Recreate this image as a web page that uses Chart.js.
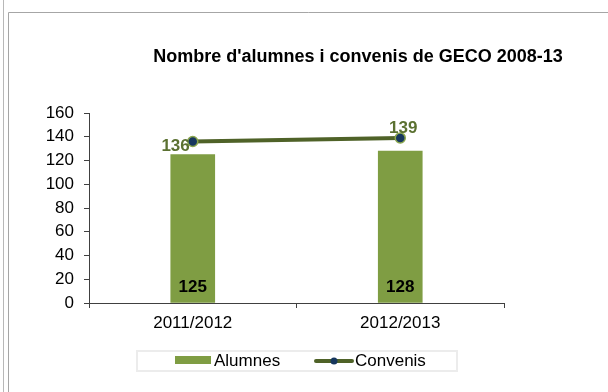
<!DOCTYPE html>
<html>
<head>
<meta charset="utf-8">
<script src="https://cdn.jsdelivr.net/npm/chart.js@4"></script>
<style>
  html, body { margin: 0; padding: 0; background: #fff; }
  #wrap { position: relative; width: 608px; height: 392px; }
</style>
</head>
<body>
<div id="wrap"><canvas id="geco-chart" width="608" height="392"></canvas></div>
<script>
const cursos = ['2011/2012', '2012/2013'];
const alumnes = [125, 128];
const convenis = [136, 139];
const titol = "Nombre d'alumnes i convenis de GECO 2008-13";

const FONT = '"Liberation Sans", Arial, sans-serif';
const barColor = '#7F9D43';
const lineColor = '#4F6228';
const pointColor = '#17375E';

// Marc, títol, etiquetes de valor i llegenda
const decoracio = {
    id: 'decoracio',
    beforeDraw: (chart) => {
        const ctx = chart.ctx;
        ctx.save();
        ctx.fillStyle = '#fff';
        ctx.fillRect(0, 0, chart.width, chart.height);
        ctx.strokeStyle = '#b8b8b8';
        ctx.lineWidth = 1;
        ctx.beginPath();
        ctx.moveTo(3.5, 0); ctx.lineTo(3.5, chart.height);
        ctx.stroke();
        ctx.strokeStyle = '#a6a6a6';
        ctx.beginPath();
        ctx.moveTo(8.5, chart.height); ctx.lineTo(8.5, 12.5); ctx.lineTo(chart.width, 12.5);
        ctx.stroke();
        ctx.restore();
    },
    afterDraw: (chart) => {
        const ctx = chart.ctx;
        ctx.save();

        // títol
        ctx.fillStyle = '#000';
        ctx.font = 'bold 18px ' + FONT;
        ctx.textAlign = 'center';
        ctx.textBaseline = 'middle';
        ctx.fillText(titol, 358, 57);

        // valors dins les barres
        const barres = chart.getDatasetMeta(0).data;
        ctx.font = 'bold 17px ' + FONT;
        barres.forEach((b, i) => {
            ctx.fillText(String(alumnes[i]), b.x, chart.scales.y.bottom - 16);
        });

        // valors dels convenis
        const punts = chart.getDatasetMeta(1).data;
        ctx.fillStyle = '#5B7131';
        ctx.font = 'bold 17px ' + FONT;
        ctx.textAlign = 'right';
        ctx.fillText(String(convenis[0]), punts[0].x - 3, punts[0].y + 5);
        ctx.textAlign = 'center';
        ctx.fillText(String(convenis[1]), punts[1].x + 3, punts[1].y - 10);

        // llegenda
        ctx.strokeStyle = '#ececec';
        ctx.lineWidth = 2;
        ctx.strokeRect(137, 351, 320, 20);
        ctx.fillStyle = barColor;
        ctx.fillRect(175, 356, 36, 8);
        ctx.fillStyle = '#000';
        ctx.font = '17px ' + FONT;
        ctx.textAlign = 'left';
        ctx.fillText(chart.data.datasets[0].label, 214, 361);
        ctx.strokeStyle = lineColor;
        ctx.lineWidth = 4;
        ctx.lineCap = 'round';
        ctx.beginPath();
        ctx.moveTo(316, 361); ctx.lineTo(352, 361);
        ctx.stroke();
        ctx.fillStyle = pointColor;
        ctx.beginPath();
        ctx.arc(334, 361, 3.5, 0, Math.PI * 2);
        ctx.fill();
        ctx.fillStyle = '#000';
        ctx.fillText(chart.data.datasets[1].label, 355, 361);

        ctx.restore();
    }
};

new Chart(document.querySelector('#geco-chart'), {
    type: 'bar',
    data: {
        labels: cursos,
        datasets: [
            {
                label: 'Alumnes',
                data: alumnes,
                backgroundColor: barColor,
                barThickness: 44,
                order: 2
            },
            {
                type: 'line',
                label: 'Convenis',
                data: convenis,
                borderColor: lineColor,
                borderWidth: 4,
                pointRadius: 5,
                pointBorderWidth: 1.5,
                pointBackgroundColor: pointColor,
                pointBorderColor: '#8AA64E',
                tension: 0,
                order: 1
            }
        ]
    },
    options: {
        responsive: false,
        animation: false,
        events: [],
        layout: {
            padding: { left: 0, top: 113, right: 104, bottom: 0 }
        },
        scales: {
            x: {
                offset: true,
                grid: {
                    offset: true,
                    drawOnChartArea: false,
                    drawTicks: true,
                    tickLength: 5,
                    color: '#404040'
                },
                border: { color: '#404040', width: 1 },
                ticks: {
                    color: '#000',
                    font: { family: FONT, size: 17 },
                    padding: 5
                },
                afterFit: (scale) => { scale.height = 89; }
            },
            y: {
                min: 0,
                max: 160,
                grid: {
                    drawOnChartArea: false,
                    drawTicks: true,
                    tickLength: 5,
                    color: '#404040'
                },
                border: { color: '#404040', width: 1 },
                ticks: {
                    stepSize: 20,
                    color: '#000',
                    font: { family: FONT, size: 17 },
                    padding: 10
                },
                afterFit: (scale) => { scale.width = 89; }
            }
        },
        plugins: {
            legend: { display: false },
            title: { display: false },
            tooltip: { enabled: false }
        }
    },
    plugins: [decoracio]
});
</script>
</body>
</html>
